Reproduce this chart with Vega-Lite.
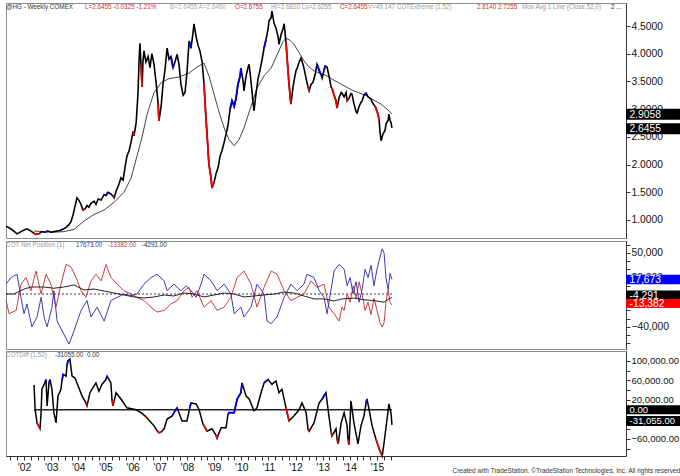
{
"$schema": "https://vega.github.io/schema/vega-lite/v6.json",
"padding": {"left": 2, "top": 2, "right": 0, "bottom": 0},
"background": "white",
"config": {
  "font": "Liberation Sans",
  "view": {"stroke": "#8c8c8c", "strokeWidth": 1},
  "axis": {"labelFont": "Liberation Sans", "labelFontSize": 10.3, "labelColor": "#111", "tickColor": "#333", "domainColor": "#333", "grid": false, "tickSize": 4, "labelPadding": 1}
},
"title": {"text": "Created with TradeStation. ©TradeStation Technologies, Inc. All rights reserved.", "orient": "bottom", "anchor": "end", "frame": "group", "dx": 56, "fontSize": 6.5, "fontWeight": "normal", "color": "#333", "offset": 0, "dy": -5, "font": "Liberation Sans"},
"datasets": {
"price": [
{"t":2001.34,"p":0.89,"c":"k","g":0},{"t":2001.48,"p":0.85,"c":"k","g":0},{"t":2001.63,"p":0.80,"c":"k","g":0},{"t":2001.74,"p":0.75,"c":"k","g":0},{"t":2001.89,"p":0.79,"c":"k","g":0},{"t":2002.00,"p":0.82,"c":"k","g":0},{"t":2002.11,"p":0.84,"c":"k","g":0},{"t":2002.26,"p":0.80,"c":"k","g":0},
{"t":2002.37,"p":0.76,"c":"r","g":1},{"t":2002.44,"p":0.74,"c":"r","g":1},{"t":2002.55,"p":0.75,"c":"r","g":1},{"t":2002.66,"p":0.79,"c":"k","g":0},{"t":2002.77,"p":0.78,"c":"b","g":2},{"t":2002.88,"p":0.80,"c":"b","g":2},{"t":2002.99,"p":0.78,"c":"k","g":0},{"t":2003.10,"p":0.79,"c":"k","g":0},{"t":2003.22,"p":0.80,"c":"k","g":0},{"t":2003.33,"p":0.81,"c":"b","g":3},{"t":2003.40,"p":0.83,"c":"b","g":3},{"t":2003.47,"p":0.84,"c":"k","g":0},{"t":2003.58,"p":0.88,"c":"k","g":0},{"t":2003.66,"p":0.92,"c":"k","g":0},{"t":2003.73,"p":0.97,"c":"k","g":0},{"t":2003.80,"p":1.08,"c":"k","g":0},{"t":2003.88,"p":1.25,"c":"k","g":0},{"t":2003.95,"p":1.40,"c":"k","g":0},
{"t":2004.03,"p":1.35,"c":"k","g":0},{"t":2004.10,"p":1.28,"c":"k","g":0},{"t":2004.17,"p":1.18,"c":"r","g":4},{"t":2004.25,"p":1.20,"c":"r","g":4},{"t":2004.32,"p":1.26,"c":"k","g":0},{"t":2004.39,"p":1.23,"c":"k","g":0},{"t":2004.47,"p":1.30,"c":"k","g":0},{"t":2004.58,"p":1.34,"c":"k","g":0},{"t":2004.65,"p":1.28,"c":"k","g":0},{"t":2004.73,"p":1.38,"c":"k","g":0},{"t":2004.84,"p":1.36,"c":"k","g":0},{"t":2004.95,"p":1.46,"c":"k","g":0},
{"t":2005.02,"p":1.44,"c":"b","g":5},{"t":2005.09,"p":1.50,"c":"b","g":5},{"t":2005.20,"p":1.47,"c":"k","g":0},{"t":2005.28,"p":1.43,"c":"r","g":6},{"t":2005.32,"p":1.40,"c":"r","g":6},{"t":2005.39,"p":1.52,"c":"k","g":0},{"t":2005.50,"p":1.65,"c":"k","g":0},{"t":2005.57,"p":1.76,"c":"k","g":0},{"t":2005.65,"p":1.72,"c":"k","g":0},{"t":2005.72,"p":1.95,"c":"k","g":0},{"t":2005.79,"p":2.15,"c":"k","g":0},{"t":2005.87,"p":2.25,"c":"k","g":0},{"t":2005.94,"p":2.40,"c":"k","g":0},
{"t":2006.02,"p":2.60,"c":"r","g":7},{"t":2006.05,"p":2.52,"c":"r","g":7},{"t":2006.13,"p":2.75,"c":"k","g":0},{"t":2006.20,"p":3.30,"c":"k","g":0},{"t":2006.24,"p":3.90,"c":"k","g":0},{"t":2006.27,"p":4.19,"c":"k","g":0},{"t":2006.31,"p":3.80,"c":"r","g":8},{"t":2006.35,"p":3.40,"c":"r","g":8},{"t":2006.38,"p":3.85,"c":"k","g":0},{"t":2006.42,"p":4.05,"c":"k","g":0},{"t":2006.49,"p":3.85,"c":"k","g":0},{"t":2006.57,"p":3.95,"c":"k","g":0},{"t":2006.64,"p":3.75,"c":"k","g":0},{"t":2006.71,"p":4.00,"c":"k","g":0},{"t":2006.79,"p":3.80,"c":"k","g":0},{"t":2006.86,"p":3.50,"c":"k","g":0},{"t":2006.94,"p":3.10,"c":"r","g":9},{"t":2006.97,"p":2.79,"c":"r","g":9},
{"t":2007.05,"p":3.05,"c":"k","g":0},{"t":2007.12,"p":3.45,"c":"k","g":0},{"t":2007.19,"p":3.70,"c":"k","g":0},{"t":2007.27,"p":4.10,"c":"k","g":0},{"t":2007.34,"p":3.90,"c":"k","g":0},{"t":2007.41,"p":3.95,"c":"b","g":10},{"t":2007.49,"p":3.75,"c":"b","g":10},{"t":2007.56,"p":3.85,"c":"k","g":0},{"t":2007.64,"p":3.99,"c":"k","g":0},{"t":2007.71,"p":3.80,"c":"k","g":0},{"t":2007.78,"p":3.45,"c":"k","g":0},{"t":2007.86,"p":3.25,"c":"k","g":0},{"t":2007.93,"p":3.30,"c":"k","g":0},
{"t":2008.00,"p":3.65,"c":"k","g":0},{"t":2008.08,"p":4.23,"c":"b","g":11},{"t":2008.15,"p":4.10,"c":"b","g":11},{"t":2008.23,"p":4.40,"c":"k","g":0},{"t":2008.26,"p":4.54,"c":"k","g":0},{"t":2008.34,"p":4.30,"c":"k","g":0},{"t":2008.41,"p":4.15,"c":"k","g":0},{"t":2008.48,"p":4.05,"c":"k","g":0},{"t":2008.56,"p":3.85,"c":"k","g":0},{"t":2008.63,"p":3.45,"c":"r","g":12},{"t":2008.70,"p":2.85,"c":"r","g":12},{"t":2008.74,"p":2.55,"c":"r","g":12},{"t":2008.81,"p":2.01,"c":"r","g":12},{"t":2008.89,"p":1.75,"c":"r","g":12},{"t":2008.92,"p":1.58,"c":"r","g":12},{"t":2009.00,"p":1.68,"c":"r","g":12},
{"t":2009.07,"p":1.83,"c":"k","g":0},{"t":2009.15,"p":1.95,"c":"k","g":0},{"t":2009.22,"p":2.15,"c":"k","g":0},{"t":2009.29,"p":2.25,"c":"k","g":0},{"t":2009.37,"p":2.40,"c":"k","g":0},{"t":2009.44,"p":2.55,"c":"k","g":0},{"t":2009.51,"p":2.70,"c":"k","g":0},{"t":2009.59,"p":3.00,"c":"b","g":13},{"t":2009.66,"p":3.15,"c":"b","g":13},{"t":2009.74,"p":3.05,"c":"b","g":13},{"t":2009.81,"p":3.20,"c":"b","g":13},{"t":2009.88,"p":3.45,"c":"b","g":13},{"t":2009.96,"p":3.60,"c":"b","g":13},{"t":2009.99,"p":3.74,"c":"b","g":13},
{"t":2010.07,"p":3.50,"c":"k","g":0},{"t":2010.10,"p":3.33,"c":"k","g":0},{"t":2010.18,"p":3.60,"c":"k","g":0},{"t":2010.25,"p":3.75,"c":"k","g":0},{"t":2010.29,"p":3.81,"c":"k","g":0},{"t":2010.36,"p":3.50,"c":"k","g":0},{"t":2010.44,"p":3.10,"c":"k","g":0},{"t":2010.47,"p":2.97,"c":"k","g":0},{"t":2010.55,"p":3.30,"c":"k","g":0},{"t":2010.62,"p":3.55,"c":"k","g":0},{"t":2010.69,"p":3.70,"c":"k","g":0},{"t":2010.77,"p":3.90,"c":"k","g":0},{"t":2010.84,"p":4.10,"c":"b","g":14},{"t":2010.91,"p":4.25,"c":"b","g":14},{"t":2010.99,"p":4.45,"c":"k","g":0},
{"t":2011.02,"p":4.59,"c":"k","g":0},{"t":2011.10,"p":4.65,"c":"k","g":0},{"t":2011.13,"p":4.77,"c":"k","g":0},{"t":2011.21,"p":4.55,"c":"k","g":0},{"t":2011.28,"p":4.46,"c":"k","g":0},{"t":2011.36,"p":4.30,"c":"k","g":0},{"t":2011.39,"p":4.17,"c":"k","g":0},{"t":2011.47,"p":4.35,"c":"k","g":0},{"t":2011.54,"p":4.45,"c":"k","g":0},{"t":2011.58,"p":4.54,"c":"k","g":0},{"t":2011.65,"p":4.20,"c":"r","g":15},{"t":2011.69,"p":3.92,"c":"r","g":15},{"t":2011.76,"p":3.45,"c":"r","g":15},{"t":2011.83,"p":3.09,"c":"r","g":15},{"t":2011.91,"p":3.40,"c":"k","g":0},{"t":2011.94,"p":3.50,"c":"k","g":0},
{"t":2012.02,"p":3.70,"c":"k","g":0},{"t":2012.06,"p":3.74,"c":"k","g":0},{"t":2012.13,"p":3.85,"c":"k","g":0},{"t":2012.20,"p":3.92,"c":"k","g":0},{"t":2012.28,"p":3.80,"c":"k","g":0},{"t":2012.31,"p":3.74,"c":"k","g":0},{"t":2012.39,"p":3.55,"c":"k","g":0},{"t":2012.46,"p":3.40,"c":"r","g":16},{"t":2012.50,"p":3.33,"c":"r","g":16},{"t":2012.57,"p":3.45,"c":"k","g":0},{"t":2012.64,"p":3.48,"c":"k","g":0},{"t":2012.72,"p":3.62,"c":"k","g":0},{"t":2012.79,"p":3.81,"c":"b","g":17},{"t":2012.87,"p":3.70,"c":"b","g":17},{"t":2012.94,"p":3.62,"c":"b","g":17},{"t":2012.98,"p":3.56,"c":"k","g":0},
{"t":2013.05,"p":3.70,"c":"b","g":18},{"t":2013.09,"p":3.78,"c":"b","g":18},{"t":2013.16,"p":3.76,"c":"k","g":0},{"t":2013.23,"p":3.60,"c":"k","g":0},{"t":2013.31,"p":3.40,"c":"k","g":0},{"t":2013.34,"p":3.38,"c":"r","g":19},{"t":2013.42,"p":3.25,"c":"r","g":19},{"t":2013.49,"p":3.15,"c":"r","g":19},{"t":2013.53,"p":3.02,"c":"r","g":19},{"t":2013.60,"p":3.20,"c":"k","g":0},{"t":2013.68,"p":3.30,"c":"k","g":0},{"t":2013.71,"p":3.29,"c":"k","g":0},{"t":2013.79,"p":3.22,"c":"k","g":0},{"t":2013.86,"p":3.30,"c":"k","g":0},{"t":2013.90,"p":3.15,"c":"r","g":20},{"t":2013.97,"p":3.20,"c":"r","g":20},
{"t":2014.04,"p":3.28,"c":"k","g":0},{"t":2014.08,"p":3.27,"c":"k","g":0},{"t":2014.15,"p":3.10,"c":"k","g":0},{"t":2014.23,"p":2.95,"c":"k","g":0},{"t":2014.27,"p":2.93,"c":"k","g":0},{"t":2014.34,"p":3.05,"c":"k","g":0},{"t":2014.41,"p":3.12,"c":"k","g":0},{"t":2014.45,"p":3.15,"c":"k","g":0},{"t":2014.52,"p":3.25,"c":"b","g":21},{"t":2014.60,"p":3.29,"c":"b","g":21},{"t":2014.67,"p":3.22,"c":"k","g":0},{"t":2014.74,"p":3.20,"c":"k","g":0},{"t":2014.78,"p":3.18,"c":"k","g":0},{"t":2014.85,"p":3.10,"c":"k","g":0},{"t":2014.93,"p":3.05,"c":"r","g":22},{"t":2014.96,"p":3.02,"c":"r","g":22},
{"t":2015.04,"p":2.90,"c":"r","g":22},{"t":2015.08,"p":2.79,"c":"r","g":22},{"t":2015.11,"p":2.60,"c":"k","g":0},{"t":2015.15,"p":2.43,"c":"k","g":0},{"t":2015.22,"p":2.55,"c":"k","g":0},{"t":2015.30,"p":2.62,"c":"k","g":0},{"t":2015.33,"p":2.73,"c":"k","g":0},{"t":2015.41,"p":2.80,"c":"k","g":0},{"t":2015.44,"p":2.91,"c":"k","g":0},{"t":2015.48,"p":2.80,"c":"k","g":0},{"t":2015.52,"p":2.75,"c":"k","g":0},{"t":2015.55,"p":2.66,"c":"k","g":0}
],
"ma": [
{"t":2002.37,"p":0.80},{"t":2002.74,"p":0.79},{"t":2003.10,"p":0.78},{"t":2003.47,"p":0.79},{"t":2003.84,"p":0.83},{"t":2004.21,"p":0.98},{"t":2004.58,"p":1.10},{"t":2004.95,"p":1.18},{"t":2005.32,"p":1.32},{"t":2005.68,"p":1.50},{"t":2005.94,"p":1.75},{"t":2006.16,"p":2.15},{"t":2006.35,"p":2.50},{"t":2006.53,"p":2.90},{"t":2006.79,"p":3.30},{"t":2007.05,"p":3.48},{"t":2007.34,"p":3.55},{"t":2007.71,"p":3.58},{"t":2008.08,"p":3.65},{"t":2008.37,"p":3.76},{"t":2008.63,"p":3.83},{"t":2008.81,"p":3.60},{"t":2009.00,"p":3.27},{"t":2009.18,"p":2.95},{"t":2009.37,"p":2.66},{"t":2009.55,"p":2.45},{"t":2009.74,"p":2.34},{"t":2009.92,"p":2.45},{"t":2010.10,"p":2.66},{"t":2010.36,"p":3.05},{"t":2010.58,"p":3.38},{"t":2010.84,"p":3.60},{"t":2011.10,"p":3.74},{"t":2011.32,"p":3.98},{"t":2011.54,"p":4.22},{"t":2011.65,"p":4.28},{"t":2011.80,"p":4.24},{"t":2011.94,"p":4.17},{"t":2012.13,"p":4.02},{"t":2012.31,"p":3.87},{"t":2012.50,"p":3.76},{"t":2012.68,"p":3.69},{"t":2012.94,"p":3.64},{"t":2013.16,"p":3.60},{"t":2013.42,"p":3.52},{"t":2013.68,"p":3.45},{"t":2013.94,"p":3.38},{"t":2014.15,"p":3.33},{"t":2014.41,"p":3.28},{"t":2014.63,"p":3.24},{"t":2014.89,"p":3.16},{"t":2015.15,"p":3.09},{"t":2015.37,"p":3.00},{"t":2015.55,"p":2.91}
],
"cotB": [
{"t":2001.34,"v":12000},{"t":2001.52,"v":20000},{"t":2001.74,"v":24000},{"t":2001.89,"v":-4000},{"t":2002.00,"v":-24000},{"t":2002.11,"v":-12000},{"t":2002.29,"v":-40000},{"t":2002.48,"v":-28000},{"t":2002.63,"v":-4000},{"t":2002.74,"v":-28000},{"t":2002.85,"v":-40000},{"t":2003.03,"v":-16000},{"t":2003.10,"v":4000},{"t":2003.22,"v":-33000},{"t":2003.47,"v":-49000},{"t":2003.66,"v":-61000},{"t":2003.84,"v":-45000},{"t":2004.10,"v":-20000},{"t":2004.32,"v":-8000},{"t":2004.47,"v":-28000},{"t":2004.69,"v":-16000},{"t":2004.95,"v":-33000},{"t":2005.20,"v":-8000},{"t":2005.43,"v":-4000},{"t":2005.68,"v":0},{"t":2005.94,"v":-2000},{"t":2006.16,"v":0},{"t":2006.42,"v":12000},{"t":2006.68,"v":20000},{"t":2006.90,"v":24000},{"t":2007.16,"v":16000},{"t":2007.27,"v":4000},{"t":2007.52,"v":12000},{"t":2007.78,"v":4000},{"t":2007.97,"v":10000},{"t":2008.15,"v":4000},{"t":2008.34,"v":-4000},{"t":2008.52,"v":12000},{"t":2008.63,"v":24000},{"t":2008.89,"v":16000},{"t":2009.11,"v":4000},{"t":2009.37,"v":12000},{"t":2009.62,"v":0},{"t":2009.74,"v":-24000},{"t":2009.99,"v":-16000},{"t":2010.10,"v":-28000},{"t":2010.36,"v":-16000},{"t":2010.58,"v":12000},{"t":2010.84,"v":0},{"t":2010.95,"v":-33000},{"t":2011.10,"v":-36000},{"t":2011.32,"v":-28000},{"t":2011.58,"v":-4000},{"t":2011.83,"v":12000},{"t":2012.06,"v":4000},{"t":2012.31,"v":12000},{"t":2012.42,"v":24000},{"t":2012.68,"v":20000},{"t":2012.87,"v":4000},{"t":2013.05,"v":-4000},{"t":2013.16,"v":-24000},{"t":2013.42,"v":28000},{"t":2013.60,"v":36000},{"t":2013.71,"v":33000},{"t":2013.79,"v":30000},{"t":2013.90,"v":10000},{"t":2014.01,"v":20000},{"t":2014.12,"v":0},{"t":2014.23,"v":15000},{"t":2014.34,"v":-10000},{"t":2014.45,"v":5000},{"t":2014.56,"v":30000},{"t":2014.67,"v":20000},{"t":2014.78,"v":35000},{"t":2014.89,"v":10000},{"t":2015.00,"v":30000},{"t":2015.11,"v":45000},{"t":2015.19,"v":55000},{"t":2015.26,"v":50000},{"t":2015.33,"v":20000},{"t":2015.41,"v":5000},{"t":2015.48,"v":25000},{"t":2015.55,"v":17673}
],
"cotR": [
{"t":2001.34,"v":-8000},{"t":2001.45,"v":-24000},{"t":2001.71,"v":-20000},{"t":2001.89,"v":12000},{"t":2002.07,"v":20000},{"t":2002.26,"v":4000},{"t":2002.44,"v":28000},{"t":2002.63,"v":0},{"t":2002.81,"v":24000},{"t":2002.99,"v":12000},{"t":2003.18,"v":-16000},{"t":2003.36,"v":12000},{"t":2003.55,"v":36000},{"t":2003.73,"v":33000},{"t":2003.92,"v":20000},{"t":2004.10,"v":4000},{"t":2004.28,"v":-4000},{"t":2004.47,"v":16000},{"t":2004.65,"v":24000},{"t":2004.84,"v":16000},{"t":2005.02,"v":36000},{"t":2005.20,"v":20000},{"t":2005.43,"v":12000},{"t":2005.68,"v":4000},{"t":2005.94,"v":0},{"t":2006.16,"v":-4000},{"t":2006.42,"v":-8000},{"t":2006.68,"v":-16000},{"t":2006.90,"v":-22000},{"t":2007.16,"v":-20000},{"t":2007.41,"v":-12000},{"t":2007.64,"v":-8000},{"t":2007.89,"v":4000},{"t":2008.08,"v":8000},{"t":2008.19,"v":-4000},{"t":2008.37,"v":4000},{"t":2008.63,"v":-16000},{"t":2008.89,"v":-8000},{"t":2009.11,"v":-20000},{"t":2009.37,"v":-16000},{"t":2009.62,"v":-4000},{"t":2009.85,"v":20000},{"t":2010.10,"v":28000},{"t":2010.36,"v":12000},{"t":2010.58,"v":-16000},{"t":2010.84,"v":8000},{"t":2011.10,"v":28000},{"t":2011.32,"v":24000},{"t":2011.58,"v":4000},{"t":2011.83,"v":-8000},{"t":2012.06,"v":-4000},{"t":2012.31,"v":0},{"t":2012.57,"v":16000},{"t":2012.79,"v":8000},{"t":2013.05,"v":12000},{"t":2013.23,"v":-16000},{"t":2013.42,"v":-24000},{"t":2013.60,"v":-33000},{"t":2013.71,"v":-16000},{"t":2013.79,"v":-20000},{"t":2013.90,"v":0},{"t":2014.01,"v":-10000},{"t":2014.12,"v":10000},{"t":2014.23,"v":-5000},{"t":2014.34,"v":15000},{"t":2014.45,"v":0},{"t":2014.56,"v":-20000},{"t":2014.67,"v":-10000},{"t":2014.78,"v":-25000},{"t":2014.89,"v":-5000},{"t":2015.00,"v":-20000},{"t":2015.11,"v":-35000},{"t":2015.19,"v":-40000},{"t":2015.26,"v":-35000},{"t":2015.33,"v":-10000},{"t":2015.41,"v":5000},{"t":2015.48,"v":-10000},{"t":2015.55,"v":-13382}
],
"cotK": [
{"t":2001.34,"v":0},{"t":2001.63,"v":0},{"t":2002.00,"v":6000},{"t":2002.26,"v":8500},{"t":2002.74,"v":8500},{"t":2003.10,"v":7000},{"t":2003.47,"v":8500},{"t":2003.84,"v":11000},{"t":2004.21,"v":5000},{"t":2004.58,"v":6000},{"t":2004.95,"v":3600},{"t":2005.32,"v":1200},{"t":2005.68,"v":-1200},{"t":2006.05,"v":-3600},{"t":2006.42,"v":-4900},{"t":2006.79,"v":-3600},{"t":2007.16,"v":-1200},{"t":2007.52,"v":-2400},{"t":2007.89,"v":1200},{"t":2008.26,"v":0},{"t":2008.63,"v":-3600},{"t":2009.00,"v":-1200},{"t":2009.37,"v":1200},{"t":2009.74,"v":0},{"t":2010.10,"v":-3600},{"t":2010.47,"v":-2400},{"t":2010.84,"v":-1200},{"t":2011.21,"v":0},{"t":2011.58,"v":2400},{"t":2011.94,"v":1200},{"t":2012.31,"v":-2400},{"t":2012.68,"v":-6000},{"t":2013.05,"v":-6000},{"t":2013.42,"v":-8500},{"t":2013.71,"v":-6000},{"t":2014.15,"v":-5000},{"t":2014.52,"v":-7000},{"t":2014.89,"v":-8000},{"t":2015.26,"v":-10000},{"t":2015.44,"v":-6000},{"t":2015.55,"v":-4291}
],
"diff": [
{"t":2002.37,"v":51000,"c":"k","g":0},{"t":2002.41,"v":0,"c":"k","g":0},{"t":2002.48,"v":-27000,"c":"r","g":1},{"t":2002.59,"v":-39000,"c":"r","g":1},{"t":2002.63,"v":-6000,"c":"k","g":0},{"t":2002.66,"v":42000,"c":"k","g":0},{"t":2002.77,"v":56000,"c":"b","g":2},{"t":2002.81,"v":62000,"c":"b","g":2},{"t":2002.85,"v":8000,"c":"k","g":0},{"t":2002.92,"v":55000,"c":"b","g":3},{"t":2002.96,"v":62000,"c":"b","g":3},{"t":2003.03,"v":42000,"c":"k","g":0},{"t":2003.10,"v":-6000,"c":"k","g":0},{"t":2003.18,"v":-27000,"c":"k","g":0},{"t":2003.25,"v":28000,"c":"k","g":0},{"t":2003.36,"v":42000,"c":"k","g":0},{"t":2003.40,"v":60000,"c":"b","g":4},{"t":2003.44,"v":73000,"c":"b","g":4},{"t":2003.55,"v":69000,"c":"k","g":0},{"t":2003.58,"v":90000,"c":"b","g":5},{"t":2003.62,"v":100000,"c":"b","g":5},{"t":2003.69,"v":104000,"c":"b","g":5},{"t":2003.77,"v":69000,"c":"k","g":0},{"t":2003.88,"v":65000,"c":"k","g":0},{"t":2003.95,"v":55000,"c":"k","g":0},
{"t":2004.14,"v":28000,"c":"k","g":0},{"t":2004.28,"v":14000,"c":"r","g":6},{"t":2004.32,"v":8000,"c":"r","g":6},{"t":2004.43,"v":35000,"c":"k","g":0},{"t":2004.50,"v":42000,"c":"k","g":0},{"t":2004.65,"v":55000,"c":"k","g":0},{"t":2004.76,"v":38000,"c":"k","g":0},{"t":2004.87,"v":52000,"c":"k","g":0},{"t":2005.02,"v":62000,"c":"b","g":7},{"t":2005.06,"v":69000,"c":"b","g":7},{"t":2005.20,"v":55000,"c":"k","g":0},{"t":2005.24,"v":20000,"c":"r","g":8},{"t":2005.28,"v":8000,"c":"r","g":8},{"t":2005.39,"v":35000,"c":"k","g":0},{"t":2005.57,"v":22000,"c":"k","g":0},{"t":2005.79,"v":4000,"c":"k","g":0},{"t":2006.13,"v":0,"c":"k","g":0},{"t":2006.31,"v":-6000,"c":"k","g":0},{"t":2006.49,"v":-14000,"c":"r","g":9},{"t":2006.53,"v":-17000,"c":"r","g":9},{"t":2006.79,"v":-33000,"c":"k","g":0},{"t":2006.90,"v":-43000,"c":"r","g":10},{"t":2006.97,"v":-47000,"c":"r","g":10},{"t":2007.05,"v":-46000,"c":"r","g":10},
{"t":2007.16,"v":-39000,"c":"k","g":0},{"t":2007.27,"v":-19000,"c":"k","g":0},{"t":2007.45,"v":-13000,"c":"b","g":11},{"t":2007.52,"v":-6000,"c":"b","g":11},{"t":2007.64,"v":4000,"c":"b","g":11},{"t":2007.82,"v":-23000,"c":"k","g":0},{"t":2008.00,"v":-23000,"c":"k","g":0},{"t":2008.11,"v":5000,"c":"b","g":12},{"t":2008.15,"v":14000,"c":"b","g":12},{"t":2008.34,"v":12000,"c":"k","g":0},{"t":2008.45,"v":0,"c":"k","g":0},{"t":2008.59,"v":-29000,"c":"r","g":13},{"t":2008.74,"v":-44000,"c":"r","g":13},{"t":2008.92,"v":-39000,"c":"k","g":0},{"t":2009.07,"v":-52000,"c":"r","g":14},{"t":2009.11,"v":-58000,"c":"r","g":14},{"t":2009.15,"v":-52000,"c":"r","g":14},{"t":2009.26,"v":-37000,"c":"k","g":0},{"t":2009.44,"v":-37000,"c":"k","g":0},{"t":2009.51,"v":-10000,"c":"b","g":15},{"t":2009.55,"v":-6000,"c":"b","g":15},{"t":2009.74,"v":-6000,"c":"b","g":15},{"t":2009.85,"v":22000,"c":"b","g":15},{"t":2009.99,"v":35000,"c":"b","g":15},{"t":2010.03,"v":55000,"c":"b","g":15},
{"t":2010.18,"v":28000,"c":"k","g":0},{"t":2010.29,"v":22000,"c":"k","g":0},{"t":2010.47,"v":-2000,"c":"k","g":0},{"t":2010.58,"v":4000,"c":"k","g":0},{"t":2010.73,"v":35000,"c":"k","g":0},{"t":2010.84,"v":55000,"c":"b","g":16},{"t":2010.99,"v":62000,"c":"b","g":16},{"t":2011.13,"v":52000,"c":"k","g":0},{"t":2011.28,"v":59000,"c":"k","g":0},{"t":2011.39,"v":35000,"c":"k","g":0},{"t":2011.50,"v":42000,"c":"k","g":0},{"t":2011.65,"v":4000,"c":"r","g":17},{"t":2011.76,"v":-23000,"c":"r","g":17},{"t":2011.94,"v":-13000,"c":"k","g":0},{"t":2012.13,"v":0,"c":"k","g":0},{"t":2012.24,"v":14000,"c":"k","g":0},{"t":2012.39,"v":-6000,"c":"k","g":0},{"t":2012.46,"v":-40000,"c":"r","g":18},{"t":2012.50,"v":-44000,"c":"r","g":18},{"t":2012.68,"v":-27000,"c":"k","g":0},{"t":2012.87,"v":14000,"c":"k","g":0},{"t":2012.98,"v":22000,"c":"b","g":19},{"t":2013.12,"v":35000,"c":"b","g":19},
{"t":2013.23,"v":-13000,"c":"k","g":0},{"t":2013.31,"v":-45000,"c":"r","g":20},{"t":2013.34,"v":-54000,"c":"r","g":20},{"t":2013.49,"v":-39000,"c":"k","g":0},{"t":2013.53,"v":-60000,"c":"r","g":21},{"t":2013.57,"v":-70000,"c":"r","g":21},{"t":2013.68,"v":-27000,"c":"k","g":0},{"t":2013.79,"v":-6000,"c":"k","g":0},{"t":2013.90,"v":-33000,"c":"k","g":0},{"t":2013.93,"v":-60000,"c":"r","g":22},{"t":2013.97,"v":-72000,"c":"r","g":22},{"t":2014.04,"v":18000,"c":"k","g":0},{"t":2014.15,"v":-27000,"c":"k","g":0},{"t":2014.30,"v":-70000,"c":"k","g":0},{"t":2014.41,"v":-33000,"c":"k","g":0},{"t":2014.52,"v":-13000,"c":"k","g":0},{"t":2014.60,"v":15000,"c":"b","g":23},{"t":2014.63,"v":22000,"c":"b","g":23},{"t":2014.71,"v":0,"c":"k","g":0},{"t":2014.82,"v":-33000,"c":"k","g":0},{"t":2014.96,"v":-60000,"c":"r","g":24},{"t":2015.08,"v":-80000,"c":"r","g":24},{"t":2015.19,"v":-95000,"c":"r","g":24},{"t":2015.26,"v":-68000,"c":"k","g":0},{"t":2015.37,"v":-19000,"c":"k","g":0},{"t":2015.44,"v":12000,"c":"k","g":0},{"t":2015.52,"v":-9000,"c":"k","g":0},{"t":2015.55,"v":-31055,"c":"k","g":0}
]
},
"spacing": 0,
"vconcat": [
{
  "width": 620, "height": 235,
  "resolve": {"axis": {"y": "independent"}},
  "layer": [
    {"data": {"name": "ma"}, "mark": {"type": "line", "color": "#444", "strokeWidth": 1},
     "encoding": {
       "x": {"field": "t", "type": "quantitative", "scale": {"domain": [2001.337, 2024.17], "nice": false, "zero": false}, "axis": null},
       "y": {"field": "p", "type": "quantitative", "scale": {"domain": [0.675, 4.915], "nice": false, "zero": false}, "axis": {"orient": "right", "title": null, "values": [1, 1.5, 2, 2.5, 3, 3.5, 4, 4.5], "format": ".4f", "labelOverlap": false}}}},
    {"data": {"name": "price"}, "mark": {"type": "line", "color": "#000", "strokeWidth": 1.6},
     "encoding": {"x": {"field": "t", "type": "quantitative", "axis": null}, "y": {"field": "p", "type": "quantitative", "axis": null}}},
    {"data": {"name": "price"}, "transform": [{"filter": "datum.g > 0"}], "mark": {"type": "line", "strokeWidth": 1.8},
     "encoding": {"x": {"field": "t", "type": "quantitative", "axis": null}, "y": {"field": "p", "type": "quantitative", "axis": null}, "detail": {"field": "g", "type": "nominal"},
       "color": {"field": "c", "type": "nominal", "scale": {"domain": ["r", "b"], "range": ["#ee0000", "#0000ee"]}, "legend": null}}},
    {"data": {"values": [{"v": 2.9058, "s": "2.9058"}, {"v": 2.6455, "s": "2.6455"}]}, "mark": {"type": "rule", "strokeWidth": 11, "color": "#000"},
     "encoding": {"x": {"datum": 2024.17, "axis": null}, "x2": {"datum": 2026.3}, "y": {"field": "v", "type": "quantitative", "axis": null}}},
    {"data": {"values": [{"v": 2.9058, "s": "2.9058"}, {"v": 2.6455, "s": "2.6455"}]}, "mark": {"type": "text", "align": "left", "baseline": "middle", "color": "#fff", "fontSize": 10.3, "dy": 0.5},
     "encoding": {"x": {"datum": 2024.3, "axis": null}, "y": {"field": "v", "type": "quantitative", "axis": null}, "text": {"field": "s"}}},
    {"data": {"values": [{}]}, "mark": {"type": "text", "align": "left", "baseline": "middle", "fontSize": 6.3, "color": "#333"}, "encoding": {"x": {"datum": 2001.34, "axis": null}, "y": {"datum": 4.843, "axis": null}, "text": {"value": "@HG - Weekly  COMEX"}}},
    {"data": {"values": [{}]}, "mark": {"type": "text", "align": "left", "baseline": "middle", "fontSize": 6.3, "color": "#cc3333"}, "encoding": {"x": {"datum": 2004.247, "axis": null}, "y": {"datum": 4.843, "axis": null}, "text": {"value": "L=2.6455  -0.0325  -1.21%"}}},
    {"data": {"values": [{}]}, "mark": {"type": "text", "align": "left", "baseline": "middle", "fontSize": 6.3, "color": "#aaaaaa"}, "encoding": {"x": {"datum": 2007.377, "axis": null}, "y": {"datum": 4.843, "axis": null}, "text": {"value": "B=2.6455  A=2.6460"}}},
    {"data": {"values": [{}]}, "mark": {"type": "text", "align": "left", "baseline": "middle", "fontSize": 6.3, "color": "#cc3333"}, "encoding": {"x": {"datum": 2009.771, "axis": null}, "y": {"datum": 4.843, "axis": null}, "text": {"value": "O=2.6755"}}},
    {"data": {"values": [{}]}, "mark": {"type": "text", "align": "left", "baseline": "middle", "fontSize": 6.3, "color": "#999999"}, "encoding": {"x": {"datum": 2011.097, "axis": null}, "y": {"datum": 4.843, "axis": null}, "text": {"value": "Hi=2.6810  Lo=2.6255"}}},
    {"data": {"values": [{}]}, "mark": {"type": "text", "align": "left", "baseline": "middle", "fontSize": 6.3, "color": "#cc3333"}, "encoding": {"x": {"datum": 2013.64, "axis": null}, "y": {"datum": 4.843, "axis": null}, "text": {"value": "C=2.6455"}}},
    {"data": {"values": [{}]}, "mark": {"type": "text", "align": "left", "baseline": "middle", "fontSize": 6.3, "color": "#999999"}, "encoding": {"x": {"datum": 2014.66, "axis": null}, "y": {"datum": 4.843, "axis": null}, "text": {"value": "V=49,147  COTExtreme (1,52)"}}},
    {"data": {"values": [{}]}, "mark": {"type": "text", "align": "left", "baseline": "middle", "fontSize": 6.3, "color": "#cc3333"}, "encoding": {"x": {"datum": 2018.685, "axis": null}, "y": {"datum": 4.843, "axis": null}, "text": {"value": "2.8140  2.7255"}}},
    {"data": {"values": [{}]}, "mark": {"type": "text", "align": "left", "baseline": "middle", "fontSize": 6.3, "color": "#999999"}, "encoding": {"x": {"datum": 2020.343, "axis": null}, "y": {"datum": 4.843, "axis": null}, "text": {"value": "Mov Avg 1 Line (Close,52,0)"}}},
    {"data": {"values": [{}]}, "mark": {"type": "text", "align": "left", "baseline": "middle", "fontSize": 6.3, "color": "#333"}, "encoding": {"x": {"datum": 2023.621, "axis": null}, "y": {"datum": 4.843, "axis": null}, "text": {"value": "2 ..."}}}
  ]
},
{
  "width": 620, "height": 108,
  "resolve": {"axis": {"y": "independent"}},
  "layer": [
    {"data": {"values": [{}]}, "mark": {"type": "rule", "color": "#333", "strokeWidth": 1, "strokeDash": [2, 2]},
     "encoding": {"x": {"datum": 2001.34, "type": "quantitative", "scale": {"domain": [2001.337, 2024.17], "nice": false, "zero": false}, "axis": null}, "x2": {"datum": 2015.55},
       "y": {"datum": 0, "type": "quantitative", "scale": {"domain": [-66910, 64480], "nice": false, "zero": false},
         "axis": {"orient": "right", "title": null, "labelOverlap": false, "values": [-60000, -50000, -40000, -30000, -20000, -10000, 0, 10000, 20000, 30000, 40000, 50000, 60000], "labelExpr": "(datum.value - 20000) % 30000 == 0 ? format(datum.value, ',') : ''"}}}},
    {"data": {"name": "cotR"}, "mark": {"type": "line", "color": "#d03a3a", "strokeWidth": 1},
     "encoding": {"x": {"field": "t", "type": "quantitative", "axis": null}, "y": {"field": "v", "type": "quantitative", "axis": null}}},
    {"data": {"name": "cotB"}, "mark": {"type": "line", "color": "#3a3ac0", "strokeWidth": 1},
     "encoding": {"x": {"field": "t", "type": "quantitative", "axis": null}, "y": {"field": "v", "type": "quantitative", "axis": null}}},
    {"data": {"name": "cotK"}, "mark": {"type": "line", "color": "#222", "strokeWidth": 1},
     "encoding": {"x": {"field": "t", "type": "quantitative", "axis": null}, "y": {"field": "v", "type": "quantitative", "axis": null}}},
    {"data": {"values": [{}]}, "mark": {"type": "rule", "strokeWidth": 9.5, "color": "#0000ff"},
     "encoding": {"x": {"datum": 2024.17, "axis": null}, "x2": {"datum": 2026.3}, "y": {"datum": 17673, "axis": null}}},
    {"data": {"values": [{}]}, "mark": {"type": "text", "align": "left", "baseline": "middle", "color": "#fff", "fontSize": 10.3, "dy": 0.5},
     "encoding": {"x": {"datum": 2024.3, "axis": null}, "y": {"datum": 17673, "axis": null}, "text": {"value": "17,673"}}},
    {"data": {"values": [{}]}, "mark": {"type": "rule", "strokeWidth": 9, "color": "#000000", "yOffset": -2.5},
     "encoding": {"x": {"datum": 2024.17, "axis": null}, "x2": {"datum": 2026.3}, "y": {"datum": -4291, "axis": null}}},
    {"data": {"values": [{}]}, "mark": {"type": "text", "align": "left", "baseline": "middle", "color": "#fff", "fontSize": 10.3, "dy": -2},
     "encoding": {"x": {"datum": 2024.3, "axis": null}, "y": {"datum": -4291, "axis": null}, "text": {"value": "-4,291"}}},
    {"data": {"values": [{}]}, "mark": {"type": "rule", "strokeWidth": 9, "color": "#ff0000", "yOffset": -1.5},
     "encoding": {"x": {"datum": 2024.17, "axis": null}, "x2": {"datum": 2026.3}, "y": {"datum": -13382, "axis": null}}},
    {"data": {"values": [{}]}, "mark": {"type": "text", "align": "left", "baseline": "middle", "color": "#fff", "fontSize": 10.3, "dy": -1},
     "encoding": {"x": {"datum": 2024.3, "axis": null}, "y": {"datum": -13382, "axis": null}, "text": {"value": "-13,382"}}},
    {"data": {"values": [{}]}, "mark": {"type": "text", "align": "left", "baseline": "middle", "fontSize": 6.3, "color": "#999999"}, "encoding": {"x": {"datum": 2001.34, "axis": null}, "y": {"datum": 59600, "axis": null}, "text": {"value": "COT Net Position (1)"}}},
    {"data": {"values": [{}]}, "mark": {"type": "text", "align": "left", "baseline": "middle", "fontSize": 6.3, "color": "#3333cc"}, "encoding": {"x": {"datum": 2003.915, "axis": null}, "y": {"datum": 59600, "axis": null}, "text": {"value": "17673.00"}}},
    {"data": {"values": [{}]}, "mark": {"type": "text", "align": "left", "baseline": "middle", "fontSize": 6.3, "color": "#cc3333"}, "encoding": {"x": {"datum": 2005.094, "axis": null}, "y": {"datum": 59600, "axis": null}, "text": {"value": "-13382.00"}}},
    {"data": {"values": [{}]}, "mark": {"type": "text", "align": "left", "baseline": "middle", "fontSize": 6.3, "color": "#333"}, "encoding": {"x": {"datum": 2006.346, "axis": null}, "y": {"datum": 59600, "axis": null}, "text": {"value": "-4291.00"}}}
  ]
},
{
  "width": 620, "height": 105,
  "resolve": {"axis": {"x": "independent", "y": "independent"}},
  "layer": [
    {"data": {"values": [{}]}, "mark": {"type": "rule", "color": "#222", "strokeWidth": 1.5},
     "encoding": {"x": {"datum": 2002.37, "type": "quantitative", "scale": {"domain": [2001.337, 2024.17], "nice": false, "zero": false},
         "axis": {"orient": "bottom", "title": null, "labelOverlap": false, "labelFontSize": 10.3, "values": [2001.5, 2001.75, 2002, 2002.25, 2002.5, 2002.75, 2003, 2003.25, 2003.5, 2003.75, 2004, 2004.25, 2004.5, 2004.75, 2005, 2005.25, 2005.5, 2005.75, 2006, 2006.25, 2006.5, 2006.75, 2007, 2007.25, 2007.5, 2007.75, 2008, 2008.25, 2008.5, 2008.75, 2009, 2009.25, 2009.5, 2009.75, 2010, 2010.25, 2010.5, 2010.75, 2011, 2011.25, 2011.5, 2011.75, 2012, 2012.25, 2012.5, 2012.75, 2013, 2013.25, 2013.5, 2013.75, 2014, 2014.25, 2014.5, 2014.75, 2015, 2015.25, 2015.5],
           "labelExpr": "datum.value % 1 == 0 ? \"'\" + substring(toString(datum.value), 2, 4) : ''", "labelPadding": 2}},
       "x2": {"datum": 2015.55},
       "y": {"datum": 0, "type": "quantitative", "scale": {"domain": [-94870, 120500], "nice": false, "zero": false},
         "axis": {"orient": "right", "title": null, "labelOverlap": false, "labelFontSize": 9.5, "values": [-80000, -60000, -40000, -20000, 0, 20000, 40000, 60000, 80000, 100000], "labelExpr": "(datum.value - 20000) % 40000 == 0 ? format(datum.value, ',.2f') : ''"}}}},
    {"data": {"name": "diff"}, "mark": {"type": "line", "color": "#000", "strokeWidth": 1.5},
     "encoding": {"x": {"field": "t", "type": "quantitative", "axis": null}, "y": {"field": "v", "type": "quantitative", "axis": null}}},
    {"data": {"name": "diff"}, "transform": [{"filter": "datum.g > 0"}], "mark": {"type": "line", "strokeWidth": 1.7},
     "encoding": {"x": {"field": "t", "type": "quantitative", "axis": null}, "y": {"field": "v", "type": "quantitative", "axis": null}, "detail": {"field": "g", "type": "nominal"},
       "color": {"field": "c", "type": "nominal", "scale": {"domain": ["r", "b"], "range": ["#ee0000", "#0000ee"]}, "legend": null}}},
    {"data": {"values": [{}]}, "mark": {"type": "rule", "strokeWidth": 9, "color": "#000"},
     "encoding": {"x": {"datum": 2024.17, "axis": null}, "x2": {"datum": 2026.3}, "y": {"datum": 0, "axis": null}}},
    {"data": {"values": [{}]}, "mark": {"type": "text", "align": "left", "baseline": "middle", "color": "#fff", "fontSize": 9.5, "dy": 0.5},
     "encoding": {"x": {"datum": 2024.3, "axis": null}, "y": {"datum": 0, "axis": null}, "text": {"value": "0.00"}}},
    {"data": {"values": [{}]}, "mark": {"type": "rule", "strokeWidth": 10, "color": "#000", "yOffset": -4},
     "encoding": {"x": {"datum": 2024.17, "axis": null}, "x2": {"datum": 2026.3}, "y": {"datum": -31055, "axis": null}}},
    {"data": {"values": [{}]}, "mark": {"type": "text", "align": "left", "baseline": "middle", "color": "#fff", "fontSize": 9.5, "dy": -3.5},
     "encoding": {"x": {"datum": 2024.3, "axis": null}, "y": {"datum": -31055, "axis": null}, "text": {"value": "-31,055.00"}}},
    {"data": {"values": [{}]}, "mark": {"type": "text", "align": "left", "baseline": "middle", "fontSize": 6.3, "color": "#999999"}, "encoding": {"x": {"datum": 2001.34, "axis": null}, "y": {"datum": 112300, "axis": null}, "text": {"value": "COTDiff (1,52)"}}},
    {"data": {"values": [{}]}, "mark": {"type": "text", "align": "left", "baseline": "middle", "fontSize": 6.3, "color": "#333"}, "encoding": {"x": {"datum": 2003.142, "axis": null}, "y": {"datum": 112300, "axis": null}, "text": {"value": "-31055.00"}}},
    {"data": {"values": [{}]}, "mark": {"type": "text", "align": "left", "baseline": "middle", "fontSize": 6.3, "color": "#333"}, "encoding": {"x": {"datum": 2004.32, "axis": null}, "y": {"datum": 112300, "axis": null}, "text": {"value": "0.00"}}}
  ]
}
]
}
